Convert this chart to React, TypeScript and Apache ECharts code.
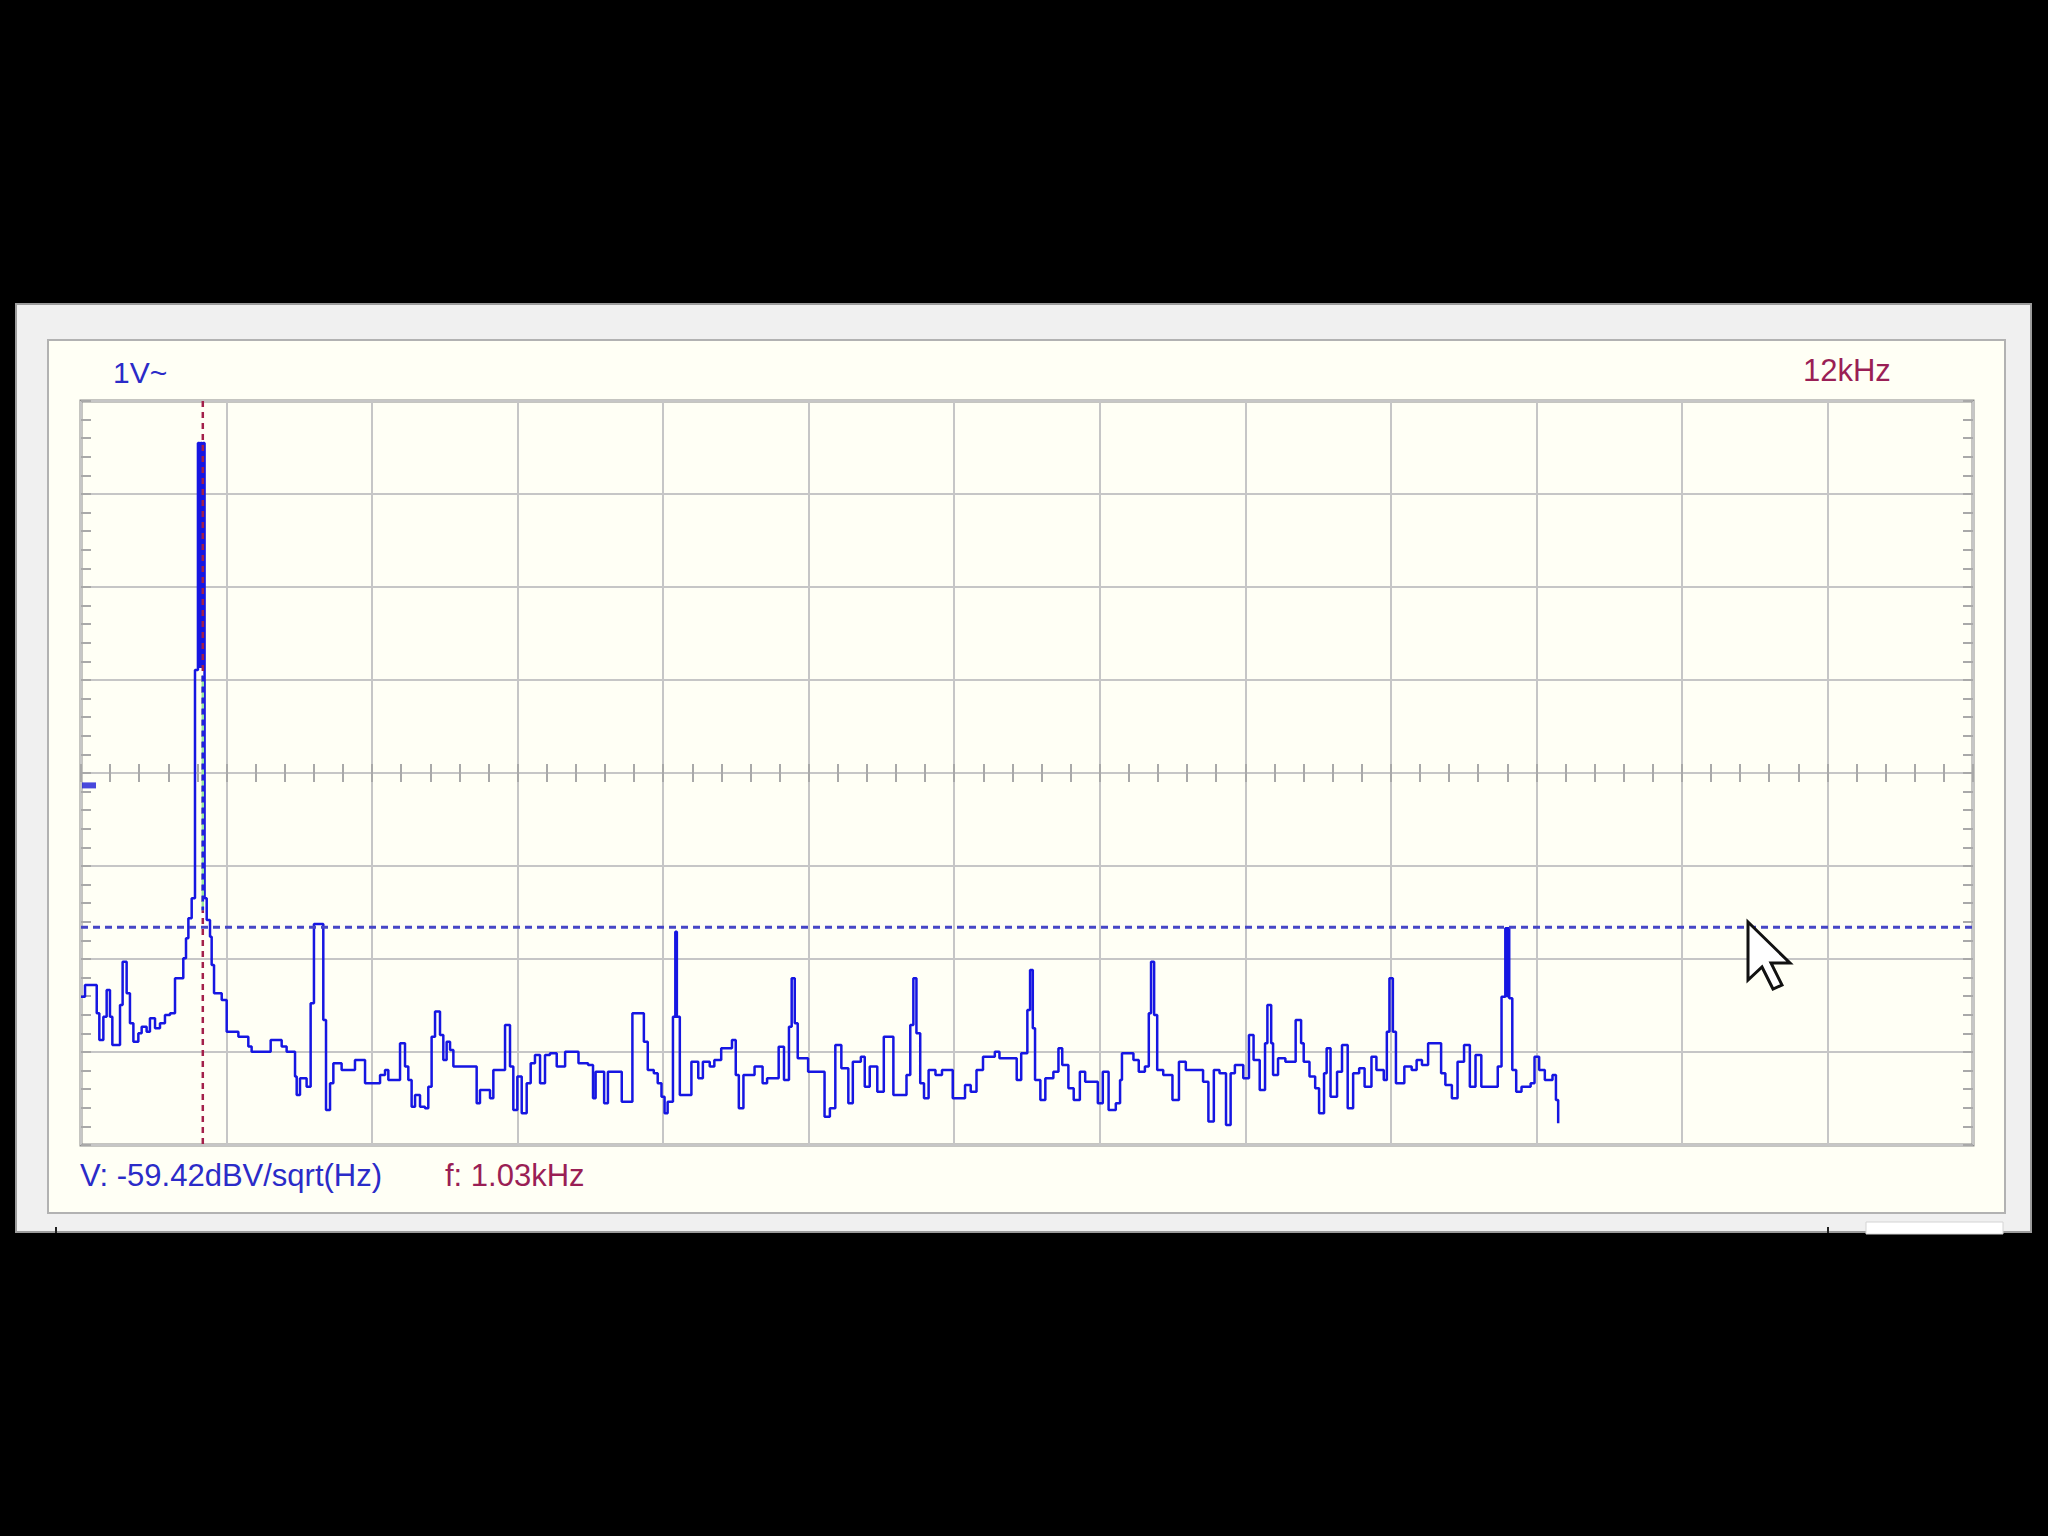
import React, { useEffect, useRef } from "react";
import * as echarts from "echarts";

// Spectrum trace: left edge of each frequency bin (kHz) and its level (dBV/sqrt(Hz))
const freqKHz = [
  0.0, 0.034, 0.133, 0.155, 0.189, 0.217, 0.245, 0.265, 0.33, 0.352, 0.386, 0.414, 0.443, 0.485, 0.513, 0.555,
  0.583, 0.626, 0.668, 0.71, 0.753, 0.795, 0.865, 0.888, 0.908, 0.936, 0.964, 0.989, 1.003, 1.011, 1.024, 1.032,
  1.045, 1.063, 1.091, 1.105, 1.125, 1.19, 1.232, 1.331, 1.415, 1.443, 1.604, 1.697, 1.739, 1.81, 1.824, 1.852,
  1.908, 1.942, 1.97, 2.049, 2.072, 2.106, 2.134, 2.204, 2.317, 2.402, 2.529, 2.571, 2.599, 2.698, 2.74, 2.768,
  2.796, 2.825, 2.867, 2.909, 2.937, 2.965, 2.994, 3.036, 3.064, 3.092, 3.121, 3.149, 3.346, 3.374, 3.459, 3.487,
  3.586, 3.628, 3.656, 3.69, 3.727, 3.769, 3.803, 3.839, 3.882, 3.924, 3.966, 4.023, 4.094, 4.207, 4.288, 4.33,
  4.352, 4.424, 4.456, 4.573, 4.663, 4.76, 4.793, 4.844, 4.877, 4.909, 4.935, 4.961, 5.006, 5.026, 5.039, 5.064,
  5.162, 5.22, 5.259, 5.317, 5.356, 5.414, 5.505, 5.537, 5.563, 5.602, 5.696, 5.764, 5.802, 5.9, 5.945, 5.987,
  6.01, 6.036, 6.061, 6.149, 6.288, 6.333, 6.379, 6.43, 6.489, 6.527, 6.595, 6.628, 6.67, 6.734, 6.789, 6.87,
  6.981, 7.013, 7.039, 7.065, 7.097, 7.129, 7.168, 7.226, 7.281, 7.372, 7.476, 7.524, 7.573, 7.628, 7.728, 7.767,
  7.913, 7.951, 8.003, 8.026, 8.049, 8.068, 8.113, 8.155, 8.223, 8.266, 8.298, 8.35, 8.395, 8.447, 8.492, 8.599,
  8.641, 8.69, 8.751, 8.787, 8.803, 8.9, 8.945, 8.997, 9.03, 9.049, 9.075, 9.101, 9.152, 9.23, 9.285, 9.343,
  9.489, 9.534, 9.58, 9.628, 9.683, 9.722, 9.758, 9.829, 9.877, 9.916, 9.968, 10.013, 10.033, 10.065, 10.081, 10.123,
  10.185, 10.272, 10.318, 10.34, 10.389, 10.437, 10.47, 10.512, 10.534, 10.567, 10.622, 10.664, 10.712, 10.758, 10.809, 10.855,
  10.913, 10.955, 11.017, 11.043, 11.065, 11.094, 11.12, 11.191, 11.253, 11.295, 11.34, 11.392, 11.502, 11.538, 11.593, 11.641,
  11.696, 11.745, 11.793, 11.842, 11.981, 12.013, 12.045, 12.058, 12.064, 12.078, 12.104, 12.137, 12.182, 12.259, 12.292, 12.331,
  12.379, 12.444, 12.473, 12.492,
];

const levelDbV = [
  -67.25, -65.93, -69.13, -72.14, -69.51, -66.5, -69.51, -72.71, -68.19, -63.3, -66.87, -70.26, -72.33, -71.39, -70.64, -71.2,
  -69.7, -70.82, -70.26, -69.32, -69.13, -65.18, -62.92, -60.66, -58.41, -56.15, -30.37, -4.74, -30.0, -4.74, -30.0, -4.74,
  -56.15, -58.59, -60.48, -63.67, -66.87, -67.62, -71.2, -71.77, -72.89, -73.46, -72.14, -72.89, -73.46, -76.28, -78.35, -76.47,
  -77.41, -68.0, -59.05, -69.88, -80.05, -77.03, -74.78, -75.53, -74.4, -77.03, -76.09, -75.53, -76.66, -72.52, -75.15, -76.66,
  -79.67, -78.35, -79.67, -79.86, -77.41, -71.77, -68.94, -71.58, -74.4, -72.33, -73.27, -75.15, -79.29, -77.79, -78.73, -75.53,
  -70.45, -75.15, -80.05, -76.28, -80.42, -77.03, -74.78, -73.83, -77.03, -73.83, -73.65, -75.15, -73.46, -74.78, -74.97, -78.73,
  -75.72, -79.29, -75.72, -79.11, -69.13, -72.33, -75.53, -75.91, -77.04, -78.54, -80.42, -79.11, -69.51, -59.91, -69.51, -78.35,
  -74.59, -76.47, -74.59, -75.15, -74.4, -73.09, -72.14, -76.1, -79.86, -76.1, -75.15, -77.04, -76.47, -72.9, -76.66, -70.64,
  -65.18, -70.26, -74.21, -75.72, -80.8, -79.86, -72.71, -75.34, -79.29, -74.59, -74.03, -77.41, -75.15, -77.98, -71.77, -78.35,
  -76.1, -70.45, -65.18, -71.39, -77.04, -78.73, -75.53, -76.1, -75.53, -78.73, -77.22, -77.98, -75.53, -74.03, -73.46, -74.21,
  -76.66, -73.65, -68.76, -64.24, -70.83, -76.66, -78.92, -76.47, -75.72, -73.09, -74.97, -77.6, -78.92, -75.72, -76.85, -79.29,
  -75.72, -80.05, -79.29, -76.66, -73.65, -74.4, -75.72, -75.15, -69.13, -63.3, -69.32, -75.53, -76.1, -78.92, -74.59, -75.53,
  -76.85, -81.36, -75.53, -75.91, -81.74, -75.91, -74.97, -76.47, -71.58, -74.4, -77.79, -72.52, -68.19, -72.52, -76.1, -74.21,
  -74.59, -69.89, -72.52, -74.59, -76.28, -77.6, -80.42, -75.91, -73.09, -78.54, -75.72, -72.71, -79.86, -75.91, -75.34, -77.41,
  -74.03, -75.53, -76.66, -71.2, -65.18, -71.2, -77.04, -75.15, -75.53, -74.4, -74.97, -72.52, -75.91, -77.22, -78.73, -74.59,
  -72.71, -77.41, -73.84, -77.41, -75.15, -67.25, -59.54, -67.2, -59.54, -67.44, -75.53, -77.98, -77.41, -77.04, -74.03, -75.53,
  -76.66, -76.1, -78.92, -81.55,
];

// Display scale
const freqMaxKHz = 16;
const freqDivisions = 13;
const levelTopDb = 0;
const levelBottomDb = -84;
const levelDivisions = 8;

// Cursor readouts and markers
const cursorFreqKHz = 1.03;
const cursorLevelDb = -59.42;
const cursorOverlayDb = [-31.0, -57.5];
const triggerMarkerDb = -43.4;
const rangeLabel = "1V~";
const bandwidthLabel = "12kHz";

const BLUE_TEXT = "#2b2bc8";
const MAROON = "#9a1f55";
const GRID_GRAY = "#c6c6c6";
const TICK_GRAY = "#a9a9a9";
const FONT = '"Liberation Sans", Arial, sans-serif';

export default function App() {
  const ref = useRef<HTMLDivElement>(null);

  useEffect(() => {
    const chart = echarts.init(ref.current as HTMLDivElement, null, { renderer: "svg" });
    const trace = freqKHz.map((f, i) => [f, levelDbV[i]]);
    const xInterval = freqMaxKHz / freqDivisions;
    const yInterval = (levelTopDb - levelBottomDb) / levelDivisions;
    const tickStyle = { color: TICK_GRAY, width: 2 };

    const xAxisBase = {
      type: "value",
      min: 0,
      max: freqMaxKHz,
      interval: xInterval,
      axisLabel: { show: false },
      axisLine: { show: false, onZero: true, onZeroAxisIndex: 1 },
      axisTick: { show: true, length: 9, lineStyle: tickStyle },
      minorTick: { show: true, splitNumber: 5, length: 9, lineStyle: tickStyle },
    };

    const option: any = {
      animation: false,
      backgroundColor: "#000000",
      grid: {
        left: 81,
        top: 401,
        width: 1892,
        height: 744,
        show: true,
        backgroundColor: "#fffff5",
        borderColor: "#8c8c8c",
        borderWidth: 3,
      },
      xAxis: [
        {
          ...xAxisBase,
          position: "bottom",
          splitLine: { show: true, lineStyle: { color: GRID_GRAY, width: 2 } },
        },
        {
          ...xAxisBase,
          position: "top",
          splitLine: { show: false },
        },
      ],
      yAxis: [
        {
          type: "value",
          position: "left",
          min: levelBottomDb,
          max: levelTopDb,
          interval: yInterval,
          axisLabel: { show: false },
          axisLine: { show: false, onZero: false },
          axisTick: { show: true, inside: true, length: 10, lineStyle: tickStyle },
          minorTick: { show: true, splitNumber: 5, length: 10, lineStyle: tickStyle },
          splitLine: { show: true, lineStyle: { color: GRID_GRAY, width: 2 } },
        },
        {
          type: "value",
          position: "right",
          min: -1,
          max: 1,
          interval: 2 / levelDivisions,
          axisLabel: { show: false },
          axisLine: { show: false, onZero: false },
          axisTick: { show: true, inside: true, length: 10, lineStyle: tickStyle },
          minorTick: { show: true, splitNumber: 5, length: 10, lineStyle: tickStyle },
          splitLine: { show: false },
        },
      ],
      series: [
        {
          name: "spectrum",
          type: "line",
          xAxisIndex: 0,
          yAxisIndex: 0,
          step: "end",
          data: trace,
          showSymbol: false,
          symbol: "none",
          silent: true,
          lineStyle: { color: "#1616e2", width: 2.5 },
          z: 3,
        },
        {
          name: "levelCursor",
          type: "line",
          data: [
            [0, cursorLevelDb],
            [freqMaxKHz, cursorLevelDb],
          ],
          symbol: "none",
          silent: true,
          lineStyle: { color: "#4646c6", width: 3, type: [7, 5] },
          z: 4,
        },
        {
          name: "freqCursor",
          type: "line",
          data: [
            [cursorFreqKHz, levelTopDb],
            [cursorFreqKHz, levelBottomDb],
          ],
          symbol: "none",
          silent: true,
          lineStyle: { color: "#a3204a", width: 2.5, type: [6, 5] },
          z: 5,
        },
        {
          name: "freqCursorOverlayGreen",
          type: "line",
          data: cursorOverlayDb.map((d) => [cursorFreqKHz, d]),
          symbol: "none",
          silent: true,
          lineStyle: { color: "#9be89b", width: 2.5 },
          z: 6,
        },
        {
          name: "freqCursorOverlayBlue",
          type: "line",
          data: cursorOverlayDb.map((d) => [cursorFreqKHz, d]),
          symbol: "none",
          silent: true,
          lineStyle: { color: "#2020e0", width: 2.5, type: [6, 5] },
          z: 7,
        },
        {
          name: "triggerMarker",
          type: "scatter",
          data: [[0, triggerMarkerDb]],
          symbol: "rect",
          symbolSize: [14, 6],
          symbolOffset: [8, 0],
          silent: true,
          itemStyle: { color: "#1a1ad6" },
          z: 8,
        },
      ],
      graphic: [
        {
          type: "rect",
          z: -10,
          shape: { x: 16, y: 304, width: 2015, height: 928 },
          style: { fill: "#f0f0f0", stroke: "#9c9c9c", lineWidth: 2 },
        },
        {
          type: "rect",
          z: -9,
          shape: { x: 48, y: 340, width: 1957, height: 873 },
          style: { fill: "#fffff5", stroke: "#b2b2b2", lineWidth: 2 },
        },
        {
          type: "rect",
          z: -8,
          shape: { x: 1866, y: 1222, width: 137, height: 12 },
          style: { fill: "#ffffff", stroke: "#d4d4d4", lineWidth: 1 },
        },
        {
          type: "line",
          z: -8,
          shape: { x1: 56, y1: 1227, x2: 56, y2: 1233 },
          style: { stroke: "#222222", lineWidth: 2 },
        },
        {
          type: "line",
          z: -8,
          shape: { x1: 1828, y1: 1227, x2: 1828, y2: 1233 },
          style: { stroke: "#222222", lineWidth: 2 },
        },
        {
          type: "text",
          z: 10,
          style: { text: rangeLabel, x: 113, y: 372, fill: BLUE_TEXT, fontSize: 30, fontFamily: FONT, verticalAlign: "middle" },
        },
        {
          type: "text",
          z: 10,
          style: { text: bandwidthLabel, x: 1803, y: 370, fill: MAROON, fontSize: 31, fontFamily: FONT, verticalAlign: "middle" },
        },
        {
          type: "text",
          z: 10,
          style: {
            text: `V: ${cursorLevelDb.toFixed(2)}dBV/sqrt(Hz)`,
            x: 80,
            y: 1175,
            fill: BLUE_TEXT,
            fontSize: 31,
            fontFamily: FONT,
            verticalAlign: "middle",
          },
        },
        {
          type: "text",
          z: 10,
          style: {
            text: `f: ${cursorFreqKHz.toFixed(2)}kHz`,
            x: 445,
            y: 1175,
            fill: MAROON,
            fontSize: 31,
            fontFamily: FONT,
            verticalAlign: "middle",
          },
        },
        {
          type: "polygon",
          z: 100,
          shape: {
            points: [
              [1748, 922],
              [1748, 980],
              [1762, 967],
              [1773, 989],
              [1782, 985],
              [1771, 963],
              [1790, 963],
            ],
          },
          style: { fill: "#ffffff", stroke: "#111111", lineWidth: 3 },
        },
      ],
    };

    chart.setOption(option);
    return () => chart.dispose();
  }, []);

  return (
    <div
      ref={ref}
      style={{ position: "fixed", left: 0, top: 0, width: 2048, height: 1536, background: "#000000" }}
    />
  );
}
